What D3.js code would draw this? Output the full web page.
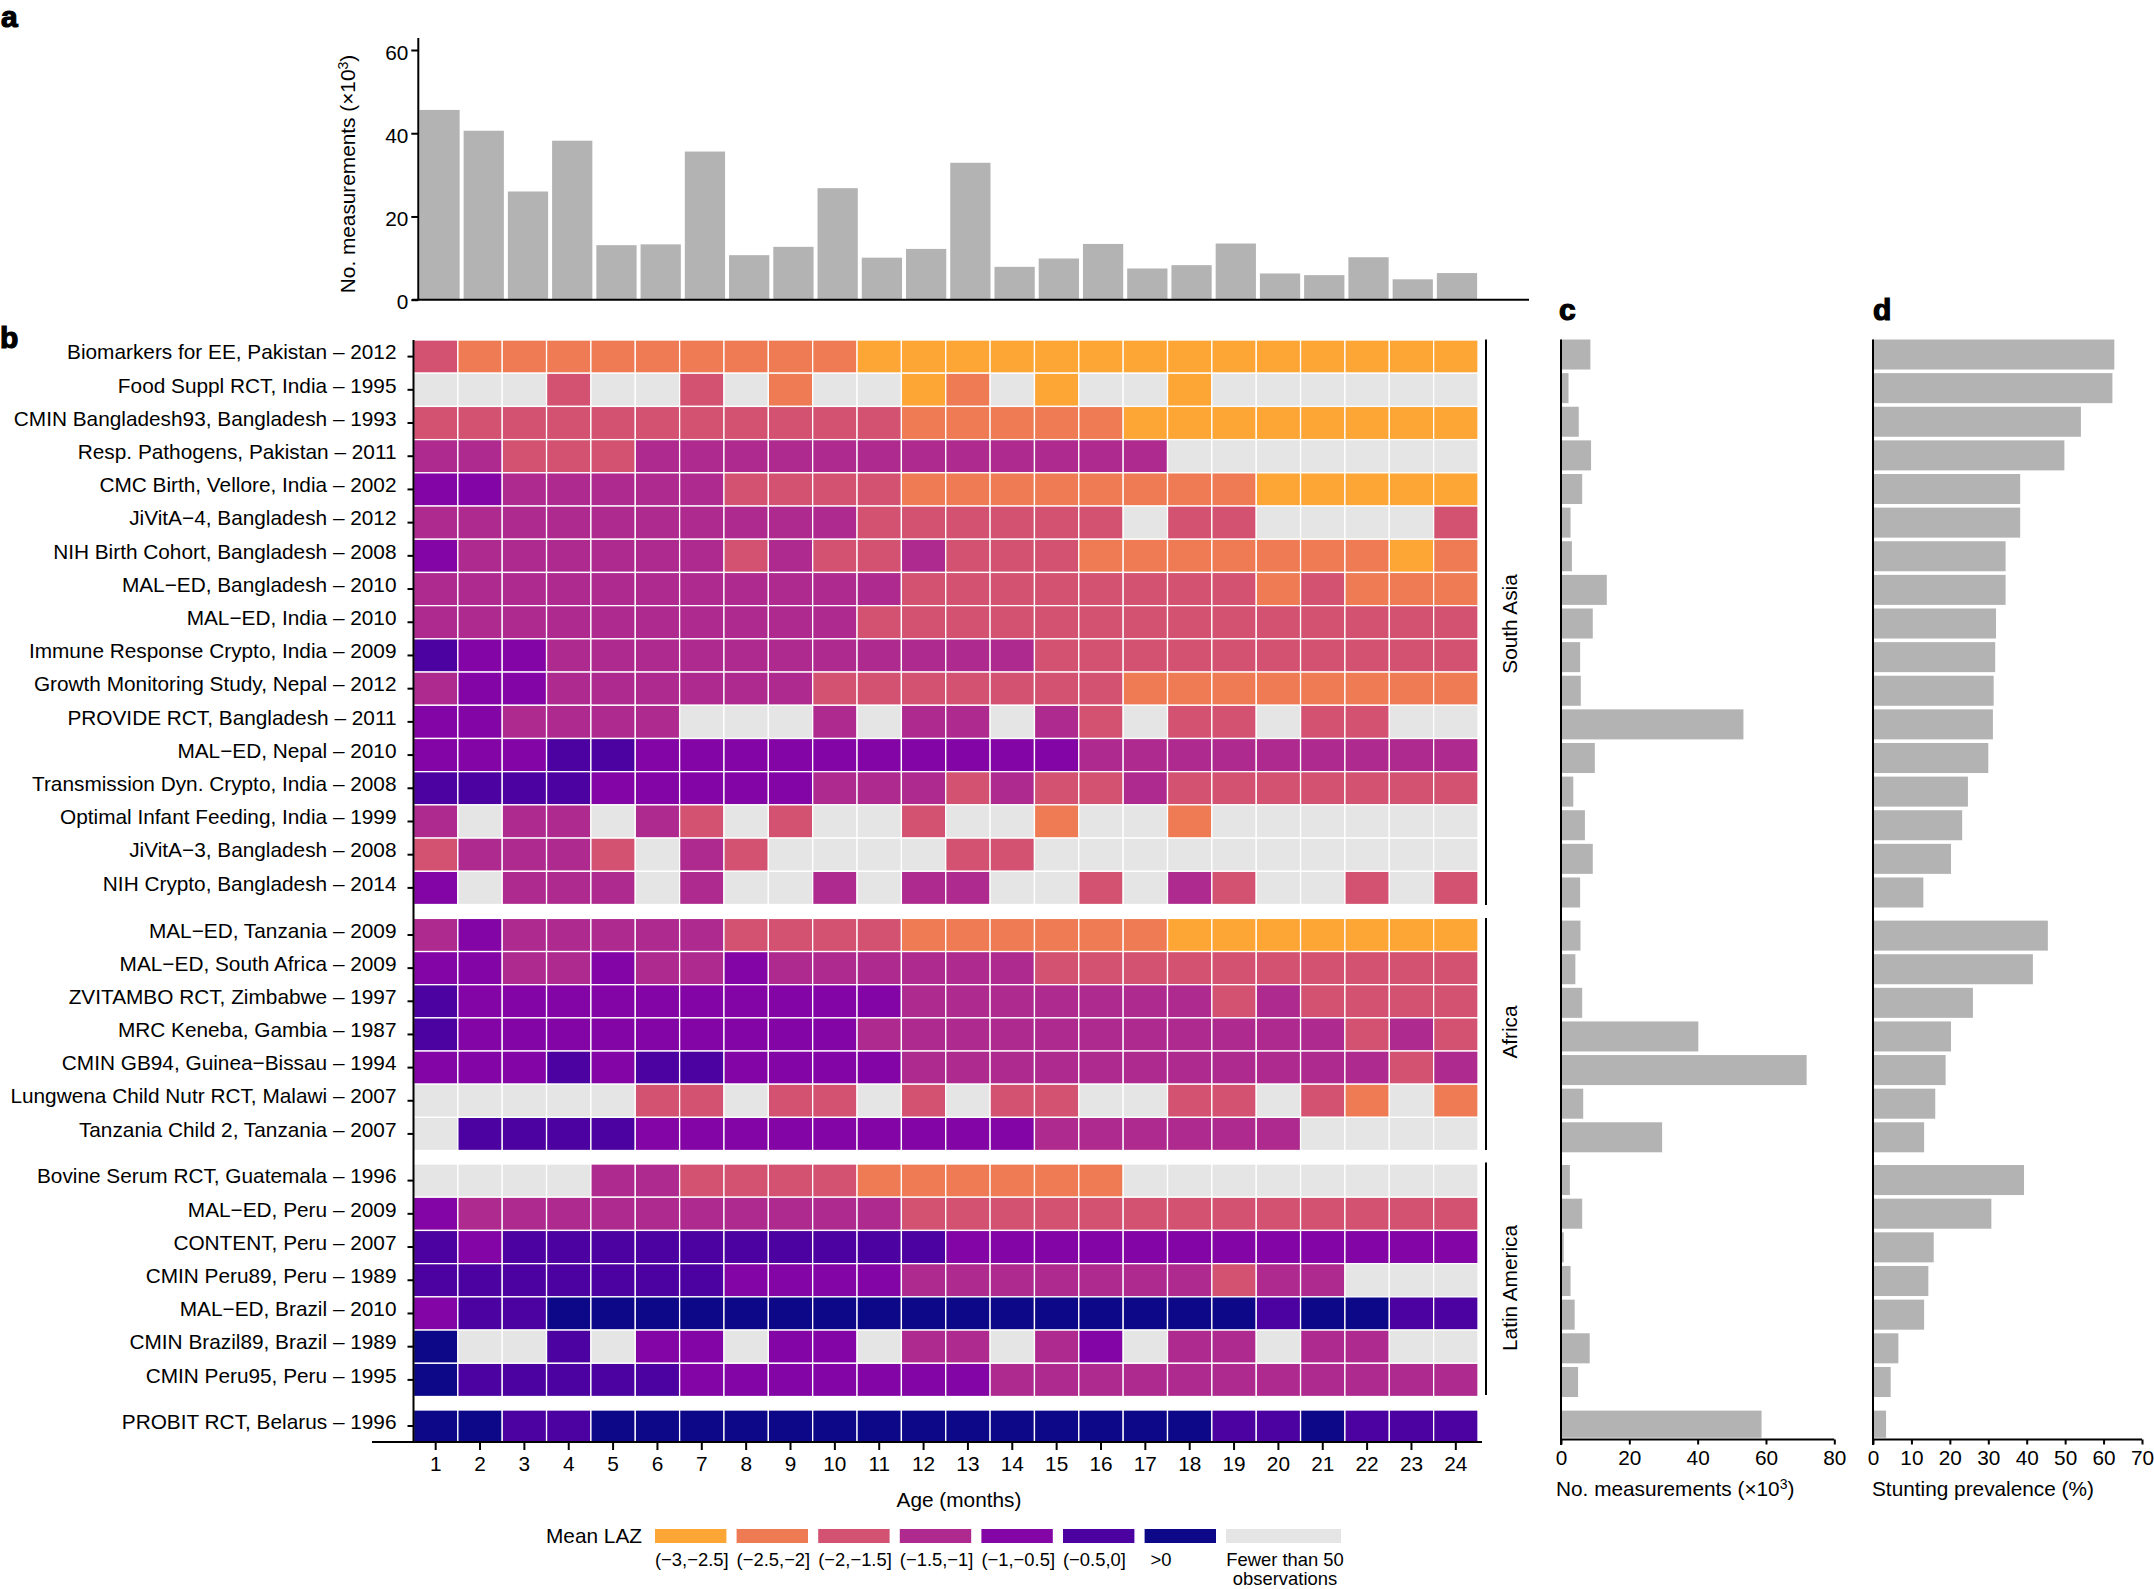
<!DOCTYPE html>
<html>
<head>
<meta charset="utf-8">
<script src="https://cdn.jsdelivr.net/npm/d3@7"></script>
<style>
  body { margin: 0; background: #fff; }
  text { font-family: "Liberation Sans", Arial, sans-serif; fill: #000; }
  .tick text { font-size: 20.8px; }
</style>
</head>
<body>
<div id="chart"></div>
<script>
// months on the heatmap x axis
const months = d3.range(1, 25);

// panel a, measurements per month (x10^3)
const monthCounts = [45.6, 40.6, 26.0, 38.2, 13.1, 13.3, 35.6, 10.7, 12.7, 26.8, 10.1, 12.2,
  32.9, 7.9, 9.9, 13.4, 7.5, 8.3, 13.5, 6.3, 5.9, 10.2, 4.9, 6.4];

const regions = ["South Asia", "Africa", "Latin America", "Europe"];

const southAsiaStudies = ["Biomarkers for EE, Pakistan – 2012", "Food Suppl RCT, India – 1995",
  "CMIN Bangladesh93, Bangladesh – 1993", "Resp. Pathogens, Pakistan – 2011",
  "CMC Birth, Vellore, India – 2002", "JiVitA−4, Bangladesh – 2012",
  "NIH Birth Cohort, Bangladesh – 2008", "MAL−ED, Bangladesh – 2010", "MAL−ED, India – 2010",
  "Immune Response Crypto, India – 2009", "Growth Monitoring Study, Nepal – 2012",
  "PROVIDE RCT, Bangladesh – 2011", "MAL−ED, Nepal – 2010", "Transmission Dyn. Crypto, India – 2008",
  "Optimal Infant Feeding, India – 1999", "JiVitA−3, Bangladesh – 2008", "NIH Crypto, Bangladesh – 2014"];
const africaStudies = ["MAL−ED, Tanzania – 2009", "MAL−ED, South Africa – 2009",
  "ZVITAMBO RCT, Zimbabwe – 1997", "MRC Keneba, Gambia – 1987", "CMIN GB94, Guinea−Bissau – 1994",
  "Lungwena Child Nutr RCT, Malawi – 2007", "Tanzania Child 2, Tanzania – 2007"];
const latinStudies = ["Bovine Serum RCT, Guatemala – 1996", "MAL−ED, Peru – 2009", "CONTENT, Peru – 2007",
  "CMIN Peru89, Peru – 1989", "MAL−ED, Brazil – 2010", "CMIN Brazil89, Brazil – 1989", "CMIN Peru95, Peru – 1995"];
const europeStudies = ["PROBIT RCT, Belarus – 1996"];

// panel c, measurements per study (x10^3)
const southAsiaCounts = [8.6, 2.2, 5.2, 8.8, 6.2, 2.8, 3.2, 13.4, 9.3, 5.6, 5.8, 53.4, 9.9, 3.6, 7.0, 9.3, 5.6];
const africaCounts = [5.7, 4.2, 6.2, 40.2, 71.9, 6.5, 29.6];
const latinCounts = [2.6, 6.2, 0.8, 2.8, 4.0, 8.4, 5.0];
const europeCounts = [58.7];

// panel d, stunting prevalence per study (%)
const southAsiaStunting = [62.8, 62.3, 54.1, 49.8, 38.3, 38.3, 34.5, 34.5, 32.0, 31.8, 31.4, 31.2, 30.0, 24.7, 23.2, 20.3, 13.1];
const africaStunting = [45.5, 41.6, 26.0, 20.3, 18.9, 16.2, 13.3];
const latinStunting = [39.3, 30.8, 15.8, 14.4, 13.3, 6.6, 4.6];
const europeStunting = [3.4];

// mean LAZ class per study and month, index into lazLabels (0 = too few observations)
const southAsiaLaz = [
  [3,2,2,2,2,2,2,2,2,2,1,1,1,1,1,1,1,1,1,1,1,1,1,1],
  [0,0,0,3,0,0,3,0,2,0,0,1,2,0,1,0,0,1,0,0,0,0,0,0],
  [3,3,3,3,3,3,3,3,3,3,3,2,2,2,2,2,1,1,1,1,1,1,1,1],
  [4,4,3,3,3,4,4,4,4,4,4,4,4,4,4,4,4,0,0,0,0,0,0,0],
  [5,5,4,4,4,4,4,3,3,3,3,2,2,2,2,2,2,2,2,1,1,1,1,1],
  [4,4,4,4,4,4,4,4,4,4,3,3,3,3,3,3,0,3,3,0,0,0,0,3],
  [5,4,4,4,4,4,4,3,4,3,3,4,3,3,3,2,2,2,2,2,2,2,1,2],
  [4,4,4,4,4,4,4,4,4,4,4,3,3,3,3,3,3,3,3,2,3,2,2,2],
  [4,4,4,4,4,4,4,4,4,4,3,3,3,3,3,3,3,3,3,3,3,3,3,3],
  [6,5,5,4,4,4,4,4,4,4,4,4,4,4,3,3,3,3,3,3,3,3,3,3],
  [4,5,5,4,4,4,4,4,4,3,3,3,3,3,3,3,2,2,2,2,2,2,2,2],
  [5,5,4,4,4,4,0,0,0,4,0,4,4,0,4,3,0,3,3,0,3,3,0,0],
  [5,5,5,6,6,5,5,5,5,5,5,5,5,5,5,4,4,4,4,4,4,4,4,4],
  [6,6,6,6,5,5,5,5,5,4,4,4,3,4,3,3,4,3,3,3,3,3,3,3],
  [4,0,4,4,0,4,3,0,3,0,0,3,0,0,2,0,0,2,0,0,0,0,0,0],
  [3,4,4,4,3,0,4,3,0,0,0,0,3,3,0,0,0,0,0,0,0,0,0,0],
  [5,0,4,4,4,0,4,0,0,4,0,4,4,0,0,3,0,4,3,0,0,3,0,3]
];
const africaLaz = [
  [4,5,4,4,4,4,4,3,3,3,3,2,2,2,2,2,2,1,1,1,1,1,1,1],
  [5,5,4,4,5,4,4,5,4,4,4,4,4,4,3,3,3,3,3,3,3,3,3,3],
  [6,5,5,5,5,5,5,5,5,5,5,4,4,4,4,4,4,4,3,4,3,3,3,3],
  [6,5,5,5,5,5,5,5,5,5,4,4,4,4,4,4,4,4,4,4,4,3,4,3],
  [5,5,5,6,5,6,6,5,5,5,5,4,4,4,4,4,4,4,4,4,4,4,3,4],
  [0,0,0,0,0,3,3,0,3,3,0,3,0,3,3,0,0,3,3,0,3,2,0,2],
  [0,6,6,6,6,5,5,5,5,5,5,5,5,5,4,4,4,4,4,4,0,0,0,0]
];
const latinLaz = [
  [0,0,0,0,4,4,3,3,3,3,2,2,2,2,2,2,0,0,0,0,0,0,0,0],
  [5,4,4,4,4,4,4,4,4,4,4,3,3,3,3,3,3,3,3,3,3,3,3,3],
  [6,5,6,6,6,6,6,6,6,6,6,6,5,5,5,5,5,5,5,5,5,5,5,5],
  [6,6,6,6,6,6,6,5,5,5,5,4,4,4,4,4,4,4,3,4,4,0,0,0],
  [5,6,6,7,7,7,7,7,7,7,7,7,7,7,7,7,7,7,7,6,7,7,6,6],
  [7,0,0,6,0,5,5,0,5,5,0,4,4,0,4,5,0,4,4,0,4,4,0,0],
  [7,6,6,6,6,6,5,5,5,5,5,5,5,4,4,4,4,4,4,4,4,4,4,4]
];
const europeLaz = [
  [7,7,6,6,7,7,7,7,7,7,7,7,7,7,7,7,7,7,6,6,7,6,6,6]
];

const lazLabels = ["Fewer than 50", "(−3,−2.5]", "(−2.5,−2]", "(−2,−1.5]", "(−1.5,−1]", "(−1,−0.5]", "(−0.5,0]", ">0"];
const lazColors = ["#e5e5e5", "#fda636", "#ee7b54", "#d35171", "#ae2a8f", "#8305a5", "#4c02a0", "#0d0887"];

const groups = [
  { region: regions[0], studies: southAsiaStudies, laz: southAsiaLaz, counts: southAsiaCounts, stunting: southAsiaStunting,
    heat: [340, 904.5], bars: [339.5, 907.5], bracket: [339.5, 905], labelY: 624 },
  { region: regions[1], studies: africaStudies, laz: africaLaz, counts: africaCounts, stunting: africaStunting,
    heat: [918.4, 1150.5], bars: [920.6, 1152.3], bracket: [918, 1150], labelY: 1032 },
  { region: regions[2], studies: latinStudies, laz: latinLaz, counts: latinCounts, stunting: latinStunting,
    heat: [1164, 1396.5], bars: [1165, 1397], bracket: [1162.6, 1395], labelY: 1288 },
  { region: regions[3], studies: europeStudies, laz: europeLaz, counts: europeCounts, stunting: europeStunting,
    heat: [1410, 1442], bars: [1409, 1439.4] }
];

const barColor = "#b3b3b3";
const labelSize = 20.8;
const svg = d3.select("#chart").append("svg").attr("width", 2154).attr("height", 1589)
  .style("display", "block");

// thicken axis lines, drop the domain path (we draw the longer ones by hand)
function styleAxis(g, width = 2) {
  g.select(".domain").remove();
  g.selectAll(".tick line").attr("stroke", "#000").attr("stroke-width", width);
  g.selectAll(".tick text").attr("fill", "#000");
}
function rule(x1, y1, x2, y2, width = 2) {
  svg.append("line").attr("x1", x1).attr("y1", y1).attr("x2", x2).attr("y2", y2)
    .attr("stroke", "#000").attr("stroke-width", width);
}
function panelLetter(letter, x, y) {
  svg.append("text").attr("x", x).attr("y", y).attr("font-size", 30).attr("font-weight", 700)
    .attr("stroke", "#000").attr("stroke-width", 1.2).text(letter);
}
// "No. measurements (x10^3)" with a raised 3
function measurementsTitle(sel) {
  sel.append("tspan").text("No. measurements (×10");
  sel.append("tspan").attr("font-size", 14).attr("dy", -7).text("3");
  sel.append("tspan").attr("dy", 7).text(")");
}

panelLetter("a", 1, 27);
panelLetter("b", 0, 348);
panelLetter("c", 1559, 320);
panelLetter("d", 1873, 320);

// panel a
const xMonth = d3.scaleBand().domain(months).range([418.5, 1478]).paddingInner(0.09).paddingOuter(0.02);
const yCount = d3.scaleLinear().domain([0, 60]).range([299.7, 50]);

svg.append("g").selectAll("rect").data(monthCounts).join("rect")
  .attr("x", (d, i) => xMonth(months[i]))
  .attr("width", xMonth.bandwidth())
  .attr("y", d => yCount(d))
  .attr("height", d => yCount(0) - yCount(d))
  .attr("fill", barColor);

svg.append("g").attr("transform", "translate(418.3,0)")
  .call(d3.axisLeft(yCount).tickValues([0, 20, 40, 60]).tickSize(7).tickPadding(3))
  .call(styleAxis)
  .selectAll(".tick text").attr("dy", "0.44em");
rule(418.3, 38, 418.3, 300);
rule(412, 299.7, 1529, 299.7);

svg.append("text")
  .attr("transform", "translate(355,174) rotate(-90)")
  .attr("text-anchor", "middle").attr("font-size", labelSize)
  .call(measurementsTitle);

// panel b heatmap
const xCell = d3.scaleBand().domain(months).range([413.5, 1478]);
const heatG = svg.append("g");

groups.forEach(group => {
  const yRow = d3.scaleBand().domain(group.studies).range(group.heat);

  group.studies.forEach((study, r) => {
    heatG.append("g").selectAll("rect").data(group.laz[r]).join("rect")
      .attr("x", (d, i) => xCell(months[i]))
      .attr("y", yRow(study))
      .attr("width", xCell.bandwidth())
      .attr("height", yRow.bandwidth())
      .attr("fill", d => lazColors[d])
      .attr("stroke", "#fff").attr("stroke-width", 1.3);
  });

  svg.append("g").attr("transform", "translate(413.5,0)")
    .call(d3.axisLeft(yRow).tickSize(6).tickPadding(11))
    .call(styleAxis)
    .selectAll(".tick text").attr("dy", "0.13em");

  // panels c and d share one row layout
  const yBar = d3.scaleBand().domain(group.studies).range(group.bars).paddingInner(0.107);
  const xC = d3.scaleLinear().domain([0, 80]).range([1561, 1834.3]);
  const xD = d3.scaleLinear().domain([0, 70]).range([1873, 2142]);
  svg.append("g").selectAll("rect").data(group.counts).join("rect")
    .attr("x", xC(0)).attr("y", (d, i) => yBar(group.studies[i]))
    .attr("width", d => xC(d) - xC(0)).attr("height", yBar.bandwidth())
    .attr("fill", barColor);
  svg.append("g").selectAll("rect").data(group.stunting).join("rect")
    .attr("x", xD(0)).attr("y", (d, i) => yBar(group.studies[i]))
    .attr("width", d => xD(d) - xD(0)).attr("height", yBar.bandwidth())
    .attr("fill", barColor);

  // region bracket
  if (group.bracket) {
    rule(1486, group.bracket[0], 1486, group.bracket[1]);
    svg.append("text")
      .attr("transform", `translate(1509,${group.labelY}) rotate(-90)`)
      .attr("text-anchor", "middle").attr("dominant-baseline", "central")
      .attr("font-size", labelSize).text(group.region);
  }
});

// heatmap axes
rule(413.5, 340, 413.5, 1442);
rule(372, 1442, 1482, 1442);
svg.append("g").attr("transform", "translate(0,1442)")
  .call(d3.axisBottom(xCell).tickSize(8).tickPadding(6))
  .call(styleAxis);
svg.append("text").attr("x", 959).attr("y", 1507).attr("text-anchor", "middle")
  .attr("font-size", labelSize).text("Age (months)");

// panel c axis
const xCountAxis = d3.scaleLinear().domain([0, 80]).range([1561, 1834.3]);
svg.append("g").attr("transform", "translate(0,1439.5)")
  .call(d3.axisBottom(xCountAxis).tickValues([0, 20, 40, 60, 80]).tickSize(5).tickPadding(6))
  .call(styleAxis);
rule(1561, 339.5, 1561, 1445);
rule(1560, 1439.5, 1834.3, 1439.5);
svg.append("text").attr("x", 1556).attr("y", 1496).attr("font-size", labelSize).call(measurementsTitle);

// panel d axis
const xStuntAxis = d3.scaleLinear().domain([0, 70]).range([1873, 2142]);
svg.append("g").attr("transform", "translate(0,1439.5)")
  .call(d3.axisBottom(xStuntAxis).tickValues(d3.range(0, 71, 10)).tickSize(5).tickPadding(6))
  .call(styleAxis);
rule(1873, 339.5, 1873, 1445);
rule(1872, 1439.5, 2142, 1439.5);
svg.append("text").attr("x", 1872).attr("y", 1496).attr("font-size", labelSize).text("Stunting prevalence (%)");

// legend: colours run from the lowest class, the grey key sits last
const legendOrder = [1, 2, 3, 4, 5, 6, 7];
const xLegend = d3.scaleBand().domain(legendOrder).range([655, 1216]).paddingInner(0.125);
const legendG = svg.append("g");
legendG.selectAll("rect").data(legendOrder).join("rect")
  .attr("x", d => xLegend(d)).attr("y", 1529)
  .attr("width", xLegend.bandwidth()).attr("height", 14)
  .attr("fill", d => lazColors[d]);
legendG.append("rect").attr("x", 1226).attr("y", 1529).attr("width", 115).attr("height", 14)
  .attr("fill", lazColors[0]);
legendG.selectAll("text.key").data(legendOrder).join("text")
  .attr("class", "key")
  .attr("x", d => xLegend(d) + (d === 7 ? 6 : 0)).attr("y", 1566)
  .attr("font-size", 18.4).text(d => lazLabels[d]);
legendG.append("text").attr("x", 1285).attr("y", 1566).attr("text-anchor", "middle")
  .attr("font-size", 18.4).text(lazLabels[0]);
legendG.append("text").attr("x", 1285).attr("y", 1585).attr("text-anchor", "middle")
  .attr("font-size", 18.4).text("observations");
legendG.append("text").attr("x", 642).attr("y", 1543).attr("text-anchor", "end")
  .attr("font-size", labelSize).text("Mean LAZ");
</script>
</body>
</html>
